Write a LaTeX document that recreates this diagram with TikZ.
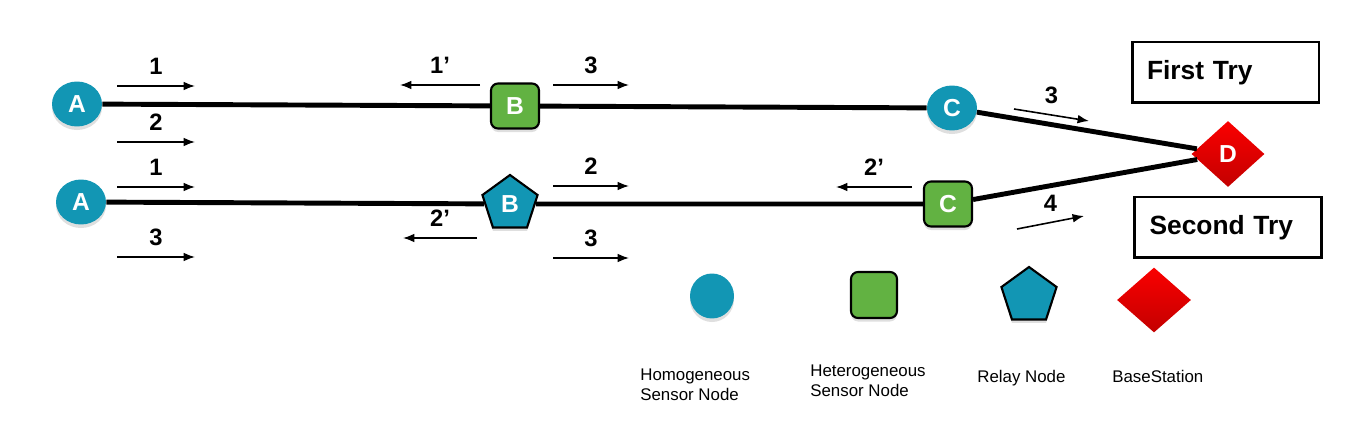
\documentclass[tikz,border=0pt]{standalone}
\usepackage{fontspec}
\setmainfont{Liberation Sans}
\usetikzlibrary{shapes.geometric,arrows.meta,shadows}

\definecolor{sensorblue}{RGB}{18,150,180}
\definecolor{sensorgreen}{RGB}{98,178,66}
\definecolor{stationred}{RGB}{250,0,0}
\definecolor{stationdark}{RGB}{195,0,0}

\newcommand{\numfont}{\fontsize{13.5}{16}\selectfont\bfseries}
\newcommand{\letterfont}{\fontsize{14}{16}\selectfont\bfseries}
\newcommand{\boxfont}{\fontsize{15}{18}\selectfont\bfseries}
\newcommand{\legendfont}{\fontsize{9.6}{11}\selectfont}

\tikzset{
	softshadow/.style={drop shadow={opacity=0.25,shadow xshift=0pt,shadow yshift=-2pt}},
	homog/.style={ellipse, fill=sensorblue, minimum width=1cm, minimum height=0.9cm, inner sep=0pt, text=white, font=\letterfont, softshadow},
	heterog/.style={rectangle, rounded corners=4pt, draw, line width=1.2pt, fill=sensorgreen, minimum width=0.96cm, minimum height=0.9cm, inner sep=0pt, text=white, font=\letterfont, softshadow},
	relay/.style={regular polygon, regular polygon sides=5, draw, line width=1.2pt, fill=sensorblue, minimum size=1.16cm, inner sep=0pt, text=white, font=\letterfont, softshadow},
	station/.style={diamond, aspect=1.1, top color=stationred, bottom color=stationdark, minimum width=1.46cm, minimum height=1.32cm, inner sep=0pt, text=white, font=\letterfont},
	link/.style={line width=2.8pt},
	msg/.style={-{Latex[length=6.5pt,width=5pt]}, line width=0.9pt},
	msglabel/.style={font=\numfont, inner sep=0pt, above=6pt},
	trybox/.style={draw, line width=1.7pt, text width=3.14cm, inner xsep=0.3cm, minimum height=1.22cm, font=\boxfont, align=left},
	legendtext/.style={font=\legendfont, align=left, anchor=north west, inner sep=0pt},
}

\begin{document}
\begin{tikzpicture}[x=0.02cm,y=-0.02cm]
		\useasboundingbox (0,0) rectangle (1363,432);

		% first try
		\node[homog] (A1) at (77,104) {A};
		\node[heterog] (B1) at (515,106) {B};
		\node[homog] (C1) at (952,108) {C};
		\node[station] (D) at (1228,154) {D};

		% second try
		\node[homog] (A2) at (81,202) {A};
		\node[relay] (B2) at (510,204) {B};
		\node[heterog] (C2) at (948,204) {C};

		\draw[link] (A1) -- (B1);
		\draw[link] (B1) -- (C1);
		\draw[link] (C1) -- (D);
		\draw[link] (A2) -- (B2);
		\draw[link] (B2) -- (C2);
		\draw[link] (C2) -- (D);

		% messages
		\foreach \n/\xa/\ya/\xb/\yb/\l in {
				ma/117/86/195/86/1, mb/117/142/195/142/2, mc/480/85/400/85/1’,
				md/553/85/629/85/3, me/1014/109/1089/121/3,
				mf/117/187/195/187/1, mg/117/257/195/257/3, mh/553/186/629/186/2,
				mi/477/238/403/238/2’, mj/553/258/629/258/3, mk/912/187/836/187/2’,
				ml/1017/229/1084/216/4}{
			\coordinate (\n s) at (\xa,\ya);
			\coordinate (\n e) at (\xb,\yb);
			\draw[msg] (\n s) -- node[msglabel] {\l} (\n e);
		}

		\node[trybox] (first) at (1225.5,72.5) {First Try};
		\node[trybox] (second) at (1228,227.5) {Second Try};

		% legend
		\node[homog, minimum width=0.88cm, minimum height=0.9cm] (leghomog) at (712,296) {};
		\node[heterog, minimum width=0.92cm, minimum height=0.92cm] (legheterog) at (874,295) {};
		\node[relay] (legrelay) at (1029,296) {};
		\node[station, aspect=1.14, minimum width=1.48cm, minimum height=1.3cm] (legstation) at (1154,300) {};

		\node[legendtext] (txthomog) at (640,369) {Homogeneous\\Sensor Node};
		\node[legendtext] (txtheterog) at (810,365) {Heterogeneous\\Sensor Node};
		\node[legendtext] (txtrelay) at (977,370) {Relay Node};
		\node[legendtext] (txtstation) at (1112,370) {BaseStation};
\end{tikzpicture}
\end{document}
